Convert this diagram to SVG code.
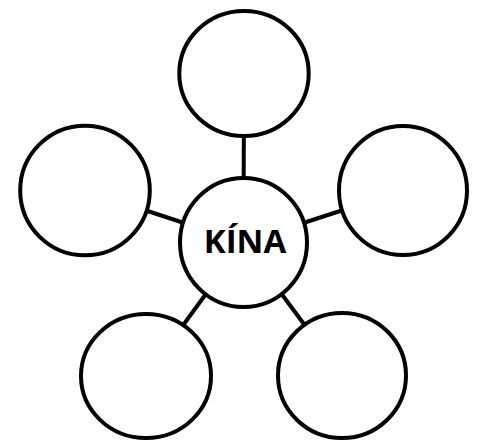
<svg xmlns="http://www.w3.org/2000/svg" width="478" height="441" viewBox="0 0 478 441">
<style>
.c{fill:#fff;stroke:#000;stroke-width:4}
.l{stroke:#000;stroke-width:4;fill:none}
.t{font-family:"Open Sans","Liberation Sans",sans-serif;font-weight:bold;font-size:33px;fill:#000;text-anchor:middle}
</style>
<rect width="478" height="441" fill="#fff"/>
<g id="connectors">
<line class="l" x1="244" y1="73.5" x2="243.5" y2="242.5"/>
<line class="l" x1="85" y1="190.5" x2="243.5" y2="242.5"/>
<line class="l" x1="403" y1="190.5" x2="243.5" y2="242.5"/>
<line class="l" x1="146" y1="376" x2="243.5" y2="242.5"/>
<line class="l" x1="342" y1="375.5" x2="243.5" y2="242.5"/>
</g>
<g id="top"><ellipse class="c" cx="244" cy="73.5" rx="64.7" ry="62.5"/></g>
<g id="left"><circle class="c" cx="85" cy="190.5" r="64.8"/></g>
<g id="right"><ellipse class="c" cx="403" cy="190.5" rx="64" ry="64.5"/></g>
<g id="bottom-left"><ellipse class="c" cx="146" cy="376" rx="65" ry="62"/></g>
<g id="bottom-right"><ellipse class="c" cx="342" cy="375.5" rx="64" ry="62.5"/></g>
<g id="center"><ellipse class="c" cx="243.5" cy="242.5" rx="63.5" ry="64.5"/>
<text class="t" x="245" y="253">KÍNA</text></g>
</svg>
